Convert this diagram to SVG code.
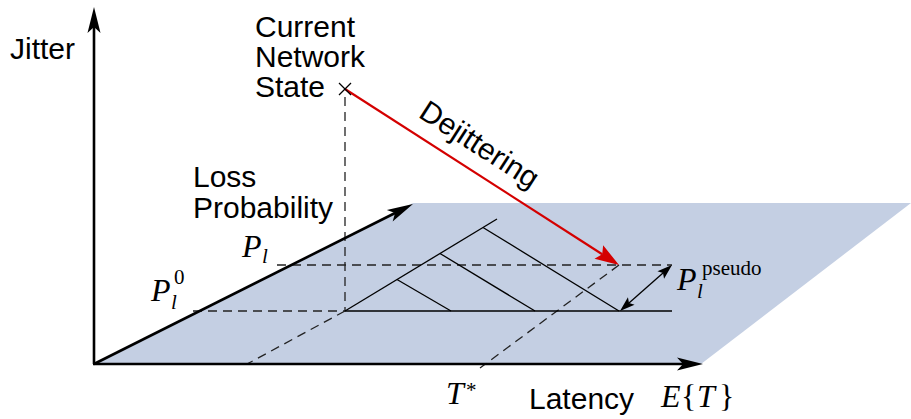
<svg xmlns="http://www.w3.org/2000/svg" width="911" height="419" viewBox="0 0 911 419">
<style>
.sans{font-family:"Liberation Sans",Arial,sans-serif;font-size:30px;fill:#000}
.math{font-family:"Liberation Serif","Times New Roman",serif;font-size:32px;font-style:italic;fill:#000}
.sub{font-size:21px}
.rm{font-style:normal}
.axis{stroke:#000;stroke-width:2.6;fill:none}
.thin{stroke:#000;stroke-width:1.3;fill:none}
.dash{stroke:#222;stroke-width:1.3;fill:none;stroke-dasharray:9 6}
</style>
<defs>
<marker id="ah" markerUnits="userSpaceOnUse" viewBox="-8 -8 30 16" refX="0" refY="0" markerWidth="30" markerHeight="16" orient="auto">
<path d="M20,0 L-6,-6.5 L0,0 L-6,6.5 Z" fill="#000"/>
</marker>
<marker id="rh" markerUnits="userSpaceOnUse" viewBox="-8 -9 30 18" refX="0" refY="0" markerWidth="30" markerHeight="18" orient="auto">
<path d="M20,0 L-4,-8 L0,0 L-4,8 Z" fill="#d40000"/>
</marker>
<marker id="sh" markerUnits="userSpaceOnUse" viewBox="-4 -6 18 12" refX="0" refY="0" markerWidth="18" markerHeight="12" orient="auto-start-reverse">
<path d="M12,0 L-3,-5 L0,0 L-3,5 Z" fill="#000"/>
</marker>
</defs>

<g id="plane">
<polygon points="94,364 413,203 911,203 701,364" fill="#c4cfe3"/>
</g>

<g id="connectors">
<line class="dash" x1="345" y1="97" x2="345" y2="311"/>
<line class="dash" x1="193" y1="311" x2="345" y2="311"/>
<line class="dash" x1="277" y1="265" x2="672" y2="265"/>
<line class="dash" x1="345" y1="311" x2="247" y2="364"/>
<line class="dash" x1="619" y1="265" x2="480" y2="368"/>
<line class="thin" x1="345" y1="311" x2="672" y2="311"/>
<line class="thin" x1="345" y1="311" x2="497" y2="219"/>
<line class="thin" x1="483" y1="227.5" x2="619" y2="311"/>
<line class="thin" x1="440" y1="253.5" x2="535" y2="311"/>
<line class="thin" x1="397" y1="279.5" x2="451" y2="311"/>
<line class="thin" x1="629" y1="303" x2="663" y2="273" marker-start="url(#sh)" marker-end="url(#sh)"/>
<line x1="345" y1="89" x2="602.2" y2="254.2" stroke="#d40000" stroke-width="2.2" marker-end="url(#rh)"/>
<line class="axis" x1="94" y1="364" x2="94" y2="27" marker-end="url(#ah)"/>
<line class="axis" x1="93" y1="364" x2="683" y2="364" marker-end="url(#ah)"/>
<line class="axis" x1="94" y1="364" x2="395.1" y2="213" marker-end="url(#ah)"/>
</g>

<g id="state">
<line class="thin" x1="339" y1="83" x2="351" y2="95"/>
<line class="thin" x1="339" y1="95" x2="351" y2="83"/>
<text class="sans" x="255" y="37">Current</text>
<text class="sans" x="255" y="67">Network</text>
<text class="sans" x="255" y="97">State</text>
</g>

<g id="labels">
<text class="sans" x="10" y="59">Jitter</text>
<text class="sans" x="193" y="187">Loss</text>
<text class="sans" x="193" y="218">Probability</text>
<text class="sans" x="529" y="409">Latency</text>
<text class="sans" text-anchor="middle" transform="translate(474,153) rotate(32.7)">Dejittering</text>
</g>

<g id="math">
<text class="math" x="242" y="257">P</text>
<text class="math sub" x="262" y="263">l</text>
<text class="math" x="151" y="301">P</text>
<text class="math sub rm" x="174" y="284">0</text>
<text class="math sub" x="171" y="309">l</text>
<text class="math" x="677" y="290">P</text>
<text class="math sub rm" x="702" y="275">pseudo</text>
<text class="math sub" x="697" y="298">l</text>
<text class="math" x="446" y="404">T</text>
<text class="math sub rm" x="466" y="397">*</text>
<text class="math" x="661" y="407">E</text>
<text class="math rm" x="681" y="407">{</text>
<text class="math" x="697" y="407">T</text>
<text class="math rm" x="719" y="407">}</text>
</g>
</svg>
